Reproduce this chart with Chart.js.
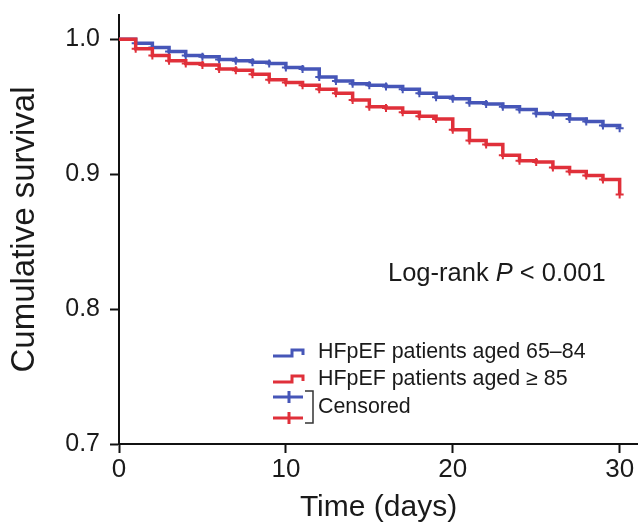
<!DOCTYPE html>
<html>
<head>
<meta charset="utf-8">
<script src="https://cdn.jsdelivr.net/npm/chart.js@4"></script>
<style>
  html, body { margin: 0; padding: 0; background: #fff; }
  #wrap { width: 638px; height: 528px; }
</style>
</head>
<body>
<div id="wrap"><canvas id="kmChart" width="638" height="528"></canvas></div>
<script>
// Kaplan-Meier curves, 30-day survival
const days = [0, 1, 2, 3, 4, 5, 6, 7, 8, 9, 10, 11, 12, 13, 14, 15, 16, 17, 18, 19, 20, 21, 22, 23, 24, 25, 26, 27, 28, 29, 30];
const aged65to84 = [1.000, 0.997, 0.994, 0.991, 0.988, 0.987, 0.985, 0.984, 0.983, 0.982, 0.979, 0.978, 0.972, 0.969, 0.967, 0.966, 0.965, 0.963, 0.960, 0.957, 0.956, 0.953, 0.952, 0.950, 0.948, 0.945, 0.944, 0.941, 0.939, 0.936, 0.934];
const aged85plus = [1.000, 0.993, 0.988, 0.984, 0.982, 0.981, 0.978, 0.977, 0.974, 0.970, 0.968, 0.966, 0.963, 0.960, 0.955, 0.950, 0.949, 0.946, 0.943, 0.941, 0.933, 0.925, 0.922, 0.914, 0.910, 0.909, 0.905, 0.902, 0.899, 0.896, 0.885];
const xTicks = [0, 10, 20, 30];
const yTicks = [0.7, 0.8, 0.9, 1.0];

const BLUE = '#4656b8';
const RED = '#e0303a';
const FONT = '"Liberation Sans", Arial, Helvetica, sans-serif';

function toPoints(ys) {
  return days.map((d, i) => ({ x: d, y: ys[i] }));
}

// legend and annotation drawn by hand, like the figure
const annotations = {
  id: 'annotations',
  afterDraw(chart) {
    const ctx = chart.ctx;
    ctx.save();
    ctx.fillStyle = '#1a1a1a';
    ctx.textBaseline = 'middle';

    // Log-rank text
    let x = 388;
    const parts = [['Log-rank ', false], ['P', true], [' < 0.001', false]];
    parts.forEach(([t, it]) => {
      ctx.font = (it ? 'italic ' : '') + '25.5px ' + FONT;
      ctx.fillText(t, x, 274);
      x += ctx.measureText(t).width;
    });

    // step icons
    ctx.lineWidth = 3;
    ctx.lineJoin = 'miter';
    function stepIcon(color, y) {
      ctx.strokeStyle = color;
      ctx.beginPath();
      ctx.moveTo(273, y + 5);
      ctx.lineTo(292, y + 5);
      ctx.lineTo(292, y - 1);
      ctx.lineTo(303, y - 1);
      ctx.lineTo(303, y + 4);
      ctx.stroke();
    }
    stepIcon(BLUE, 351);
    stepIcon(RED, 377);

    function crossIcon(color, y) {
      ctx.strokeStyle = color;
      ctx.beginPath();
      ctx.moveTo(273, y);
      ctx.lineTo(303, y);
      ctx.moveTo(289, y - 6);
      ctx.lineTo(289, y + 6);
      ctx.stroke();
    }
    crossIcon(BLUE, 397);
    crossIcon(RED, 418);

    // bracket
    ctx.strokeStyle = '#333';
    ctx.lineWidth = 1.5;
    ctx.beginPath();
    ctx.moveTo(305, 391);
    ctx.lineTo(313, 391);
    ctx.lineTo(313, 423);
    ctx.lineTo(305, 423);
    ctx.stroke();

    ctx.font = '21.4px ' + FONT;
    ctx.fillText('HFpEF patients aged 65\u201384', 318, 352);
    ctx.fillText('HFpEF patients aged \u2265 85', 318, 379);
    ctx.fillText('Censored', 318, 407);
    ctx.restore();
  }
};

const ctx = document.getElementById('kmChart');
new Chart(ctx, {
  type: 'line',
  data: {
    datasets: [
      {
        label: 'HFpEF patients aged 65\u201384',
        data: toPoints(aged65to84),
        borderColor: BLUE,
        backgroundColor: BLUE,
        borderWidth: 3.5,
        stepped: true,
        pointStyle: 'cross',
        pointRadius: c => c.dataIndex === 0 ? 0 : 4,
        pointBorderWidth: 2,
        order: 1
      },
      {
        label: 'HFpEF patients aged \u2265 85',
        data: toPoints(aged85plus),
        borderColor: RED,
        backgroundColor: RED,
        borderWidth: 3.5,
        stepped: true,
        pointStyle: 'cross',
        pointRadius: c => c.dataIndex === 0 ? 0 : 4,
        pointBorderWidth: 2,
        order: 0
      }
    ]
  },
  options: {
    responsive: false,
    animation: false,
    layout: { autoPadding: false, padding: { top: 15, right: 0, left: 0, bottom: 0 } },
    plugins: {
      legend: { display: false },
      tooltip: { enabled: false }
    },
    scales: {
      x: {
        type: 'linear',
        min: 0,
        max: 31.1,
        afterFit: s => { s.height = 84; s.paddingLeft = 0; s.paddingRight = 0; },
        afterBuildTicks: s => { s.ticks = xTicks.map(v => ({ value: v })); },
        ticks: {
          includeBounds: false,
          padding: 1,
          color: '#1a1a1a',
          font: { family: FONT, size: 26 },
          callback: v => String(v)
        },
        grid: { drawOnChartArea: false, drawTicks: true, tickLength: 9, tickColor: '#111', tickWidth: 2 },
        border: { display: true, color: '#111', width: 2 },
        title: {
          display: true,
          text: 'Time (days)',
          color: '#1a1a1a',
          font: { family: FONT, size: 30 },
          padding: { top: 0, bottom: 2 }
        }
      },
      y: {
        type: 'linear',
        min: 0.7,
        max: 1.018,
        afterFit: s => { s.width = 119; s.paddingTop = 0; s.paddingBottom = 0; },
        afterBuildTicks: s => { s.ticks = yTicks.map(v => ({ value: v })); },
        ticks: {
          includeBounds: false,
          padding: 10,
          color: '#1a1a1a',
          font: { family: FONT, size: 25 },
          callback: v => Number(v).toFixed(1)
        },
        grid: { drawOnChartArea: false, drawTicks: true, tickLength: 9, tickColor: '#111', tickWidth: 2 },
        border: { display: true, color: '#111', width: 2 },
        title: {
          display: true,
          text: 'Cumulative survival',
          color: '#1a1a1a',
          font: { family: FONT, size: 33 },
          padding: { top: 5, bottom: 0 }
        }
      }
    }
  },
  plugins: [annotations]
});
</script>
</body>
</html>
